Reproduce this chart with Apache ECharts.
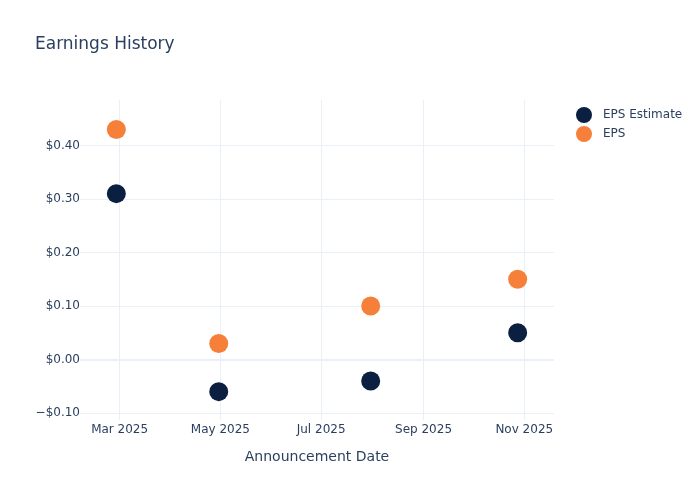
<!DOCTYPE html>
<html>
<head>
<meta charset="utf-8">
<script src="https://cdn.jsdelivr.net/npm/echarts@6/dist/echarts.min.js"></script>
<style>
  html, body { margin: 0; padding: 0; background: #fff; }
  #c { width: 700px; height: 500px; }
</style>
</head>
<body>
<div id="c"></div>
<script>
const dates = ['2025-02-27', '2025-04-30', '2025-07-31', '2025-10-28']
const epsEstimate = [0.31, -0.06, -0.04, 0.05]
const eps = [0.43, 0.03, 0.10, 0.15]
const xTicks = ['2025-03-01', '2025-05-01', '2025-07-01', '2025-09-01', '2025-11-01']
const yTicks = [-0.1, 0, 0.1, 0.2, 0.3, 0.4]

const months = ['Jan', 'Feb', 'Mar', 'Apr', 'May', 'Jun', 'Jul', 'Aug', 'Sep', 'Oct', 'Nov', 'Dec']
const ts = s => Date.parse(s + 'T00:00:00Z')
const textColor = '#2a3f5f'
const gridColor = '#ebf0f8'
const font = 'DejaVu Sans'

const chart = echarts.init(document.getElementById('c'))
chart.setOption({
  animation: false,
  textStyle: { fontFamily: font },
  title: {
    text: 'Earnings History',
    left: 30,
    top: 31,
    textStyle: { color: textColor, fontSize: 17, fontWeight: 'normal', fontFamily: font },
  },
  legend: {
    orient: 'vertical',
    left: 571,
    top: 102,
    itemWidth: 16,
    itemHeight: 16,
    itemGap: 3,
    icon: 'circle',
    textStyle: { color: textColor, fontSize: 12, fontFamily: font, padding: [0, 0, 0, 6] },
    data: ['EPS Estimate', 'EPS'],
  },
  grid: { left: 80, right: 146, top: 100, bottom: 80, containLabel: false },
  xAxis: {
    type: 'value',
    min: ts('2025-02-05'),
    max: ts('2025-11-19'),
    name: 'Announcement Date',
    nameLocation: 'middle',
    nameGap: 30,
    nameTextStyle: { color: textColor, fontSize: 14, fontFamily: font },
    axisLine: { show: false },
    axisTick: { show: false, customValues: xTicks.map(ts) },
    axisLabel: {
      customValues: xTicks.map(ts),
      color: textColor,
      fontSize: 12,
      margin: 4,
      formatter: v => { const d = new Date(v); return months[d.getUTCMonth()] + ' ' + d.getUTCFullYear() },
    },
    splitLine: { show: true, lineStyle: { color: gridColor, width: 1 } },
  },
  yAxis: {
    type: 'value',
    min: -0.113,
    max: 0.485,
    axisLine: { show: false },
    axisTick: { show: false, customValues: yTicks },
    axisLabel: {
      customValues: yTicks,
      color: textColor,
      fontSize: 12,
      margin: 0,
      formatter: v => (v < 0 ? '\u2212$' : '$') + Math.abs(v).toFixed(2),
    },
    splitLine: { show: true, lineStyle: { color: gridColor, width: 1 } },
  },
  series: [
    {
      name: 'EPS Estimate',
      type: 'scatter',
      symbolSize: 19,
      itemStyle: { color: '#0b1f41', opacity: 1 },
      data: dates.map((d, i) => [ts(d), epsEstimate[i]]),
      markLine: {
        silent: true,
        symbol: 'none',
        label: { show: false },
        lineStyle: { color: gridColor, width: 2, type: 'solid' },
        data: [{ yAxis: 0 }],
        z: 1,
      },
    },
    {
      name: 'EPS',
      type: 'scatter',
      symbolSize: 19,
      itemStyle: { color: '#f6803a', opacity: 1 },
      data: dates.map((d, i) => [ts(d), eps[i]]),
    },
  ],
})
</script>
</body>
</html>
